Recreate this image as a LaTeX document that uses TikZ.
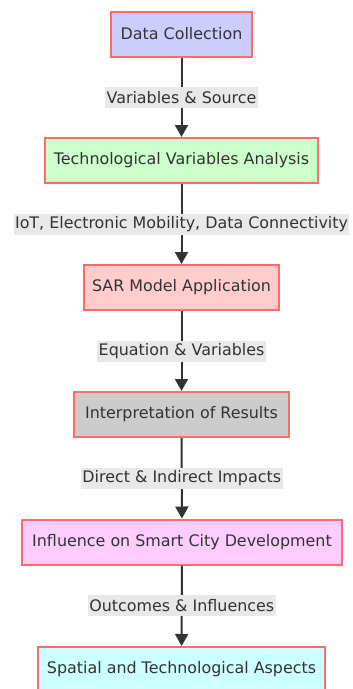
\documentclass[tikz,border=0pt]{standalone}
\usepackage{fontspec}
\setmainfont{DejaVu Sans}
\usetikzlibrary{arrows.meta}
\definecolor{txt}{HTML}{333333}
\definecolor{bord}{HTML}{FF6B6B}
\definecolor{lbl}{HTML}{E8E8E8}
\definecolor{fa}{HTML}{CCCCFF}
\definecolor{fb}{HTML}{CCFFCC}
\definecolor{fc}{HTML}{FFCCCC}
\definecolor{fd}{HTML}{CCCCCC}
\definecolor{fe}{HTML}{FFCCFF}
\definecolor{ff}{HTML}{CCFFFF}
\tikzset{
  stepbox/.style={draw=bord, line width=2pt, minimum height=45pt, inner sep=0pt, text=txt, font=\fontsize{15.9}{18}\selectfont},
  edgelbl/.style={fill=lbl, text=txt, inner sep=1.5pt, minimum height=21pt, font=\fontsize{15.9}{18}\selectfont},
  conn/.style={draw=txt, line width=2pt, -{Triangle[length=12pt,width=13pt]}}
}
\begin{document}
\begin{tikzpicture}[x=1pt,y=-1pt]
\useasboundingbox (0,0) rectangle (353,689);
\node[stepbox, fill=fa, minimum width=141pt] (a) at (181.5,34) {Data Collection};
\node[stepbox, fill=fb, minimum width=273pt] (b) at (181.5,160.5) {Technological Variables Analysis};
\node[stepbox, fill=fc, minimum width=195pt] (c) at (181.5,287.5) {SAR Model Application};
\node[stepbox, fill=fd, minimum width=215pt] (d) at (181.5,414.5) {Interpretation of Results};
\node[stepbox, fill=fe, minimum width=320pt] (e) at (182,542) {Influence on Smart City Development};
\node[stepbox, fill=ff, minimum width=287pt] (f) at (181.5,669.5) {Spatial and Technological Aspects};
\draw[conn] (a) -- node[edgelbl] {Variables \& Source} (b);
\draw[conn] (b) -- node[edgelbl] {IoT, Electronic Mobility, Data Connectivity} (c);
\draw[conn] (c) -- node[edgelbl] {Equation \& Variables} (d);
\draw[conn] (d) -- node[edgelbl] {Direct \& Indirect Impacts} (e);
\draw[conn] (e) -- node[edgelbl] {Outcomes \& Influences} (f);
\end{tikzpicture}
\end{document}
